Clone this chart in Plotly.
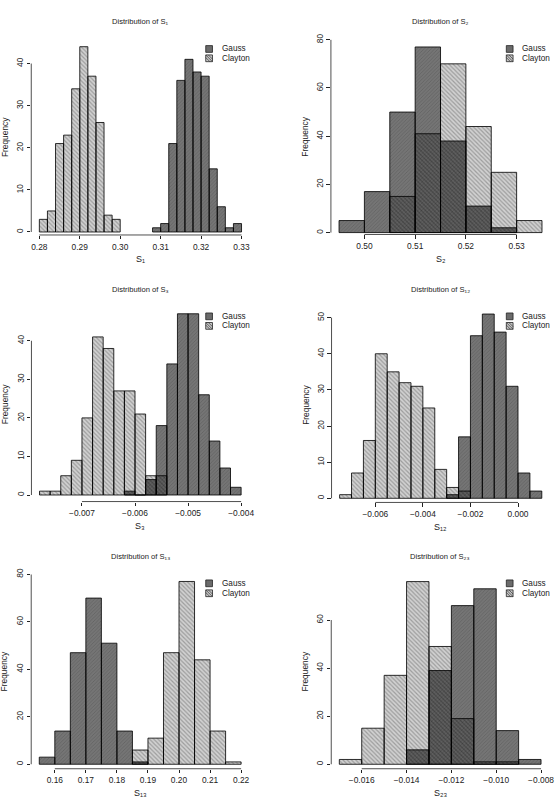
import plotly.graph_objects as go

W, H = 558, 800

# ---------------- data: histogram counts ----------------
SERIES_NAMES = ["Gauss", "Clayton"]

S1_BIN_WIDTH = 0.002
S1_GAUSS_FIRST_EDGE = 0.308
S1_GAUSS_COUNTS = [1, 2, 21, 36, 41, 38, 37, 15, 6, 1, 2]
S1_CLAYTON_FIRST_EDGE = 0.280
S1_CLAYTON_COUNTS = [3, 5, 21, 23, 34, 44, 37, 26, 4, 3]
S1_X_TICKS = [0.28, 0.29, 0.30, 0.31, 0.32, 0.33]
S1_X_TICK_LABELS = ["0.28", "0.29", "0.30", "0.31", "0.32", "0.33"]
S1_Y_TICKS = [0, 10, 20, 30, 40]

S2_BIN_WIDTH = 0.005
S2_GAUSS_FIRST_EDGE = 0.495
S2_GAUSS_COUNTS = [5, 17, 50, 77, 38, 11, 2]
S2_CLAYTON_FIRST_EDGE = 0.505
S2_CLAYTON_COUNTS = [15, 41, 70, 44, 25, 5]
S2_X_TICKS = [0.50, 0.51, 0.52, 0.53]
S2_X_TICK_LABELS = ["0.50", "0.51", "0.52", "0.53"]
S2_Y_TICKS = [0, 20, 40, 60, 80]

S3_BIN_WIDTH = 0.0002
S3_GAUSS_FIRST_EDGE = -0.0062
S3_GAUSS_COUNTS = [1, 0, 4, 18, 34, 47, 47, 26, 14, 7, 2]
S3_CLAYTON_FIRST_EDGE = -0.0078
S3_CLAYTON_COUNTS = [1, 1, 5, 9, 20, 41, 38, 27, 27, 21, 5, 5]
S3_X_TICKS = [-0.007, -0.006, -0.005, -0.004]
S3_X_TICK_LABELS = ["\u22120.007", "\u22120.006", "\u22120.005", "\u22120.004"]
S3_Y_TICKS = [0, 10, 20, 30, 40]

S12_BIN_WIDTH = 0.0005
S12_GAUSS_FIRST_EDGE = -0.0030
S12_GAUSS_COUNTS = [1, 17, 45, 51, 46, 31, 7, 2]
S12_CLAYTON_FIRST_EDGE = -0.0075
S12_CLAYTON_COUNTS = [1, 7, 16, 40, 35, 32, 31, 25, 8, 3, 2]
S12_X_TICKS = [-0.006, -0.004, -0.002, 0.000]
S12_X_TICK_LABELS = ["\u22120.006", "\u22120.004", "\u22120.002", "0.000"]
S12_Y_TICKS = [0, 10, 20, 30, 40, 50]

S13_BIN_WIDTH = 0.005
S13_GAUSS_FIRST_EDGE = 0.155
S13_GAUSS_COUNTS = [3, 14, 47, 70, 51, 14, 1]
S13_CLAYTON_FIRST_EDGE = 0.185
S13_CLAYTON_COUNTS = [6, 11, 47, 77, 44, 14, 1]
S13_X_TICKS = [0.16, 0.17, 0.18, 0.19, 0.20, 0.21, 0.22]
S13_X_TICK_LABELS = ["0.16", "0.17", "0.18", "0.19", "0.20", "0.21", "0.22"]
S13_Y_TICKS = [0, 20, 40, 60, 80]

S23_BIN_WIDTH = 0.001
S23_GAUSS_FIRST_EDGE = -0.014
S23_GAUSS_COUNTS = [6, 39, 66, 73, 14, 2]
S23_CLAYTON_FIRST_EDGE = -0.017
S23_CLAYTON_COUNTS = [2, 15, 37, 76, 49, 19, 1, 1]
S23_X_TICKS = [-0.016, -0.014, -0.012, -0.010, -0.008]
S23_X_TICK_LABELS = ["\u22120.016", "\u22120.014", "\u22120.012", "\u22120.010", "\u22120.008"]
S23_Y_TICKS = [0, 20, 40, 60]

PANEL_SUBSCRIPTS = ["\u2081", "\u2082", "\u2083", "\u2081\u2082", "\u2081\u2083", "\u2082\u2083"]

PANELS = [
    dict(bw=S1_BIN_WIDTH, gs=S1_GAUSS_FIRST_EDGE, g=S1_GAUSS_COUNTS, cs=S1_CLAYTON_FIRST_EDGE, c=S1_CLAYTON_COUNTS,
         xt=S1_X_TICKS, xl=S1_X_TICK_LABELS, yt=S1_Y_TICKS),
    dict(bw=S2_BIN_WIDTH, gs=S2_GAUSS_FIRST_EDGE, g=S2_GAUSS_COUNTS, cs=S2_CLAYTON_FIRST_EDGE, c=S2_CLAYTON_COUNTS,
         xt=S2_X_TICKS, xl=S2_X_TICK_LABELS, yt=S2_Y_TICKS),
    dict(bw=S3_BIN_WIDTH, gs=S3_GAUSS_FIRST_EDGE, g=S3_GAUSS_COUNTS, cs=S3_CLAYTON_FIRST_EDGE, c=S3_CLAYTON_COUNTS,
         xt=S3_X_TICKS, xl=S3_X_TICK_LABELS, yt=S3_Y_TICKS),
    dict(bw=S12_BIN_WIDTH, gs=S12_GAUSS_FIRST_EDGE, g=S12_GAUSS_COUNTS, cs=S12_CLAYTON_FIRST_EDGE, c=S12_CLAYTON_COUNTS,
         xt=S12_X_TICKS, xl=S12_X_TICK_LABELS, yt=S12_Y_TICKS),
    dict(bw=S13_BIN_WIDTH, gs=S13_GAUSS_FIRST_EDGE, g=S13_GAUSS_COUNTS, cs=S13_CLAYTON_FIRST_EDGE, c=S13_CLAYTON_COUNTS,
         xt=S13_X_TICKS, xl=S13_X_TICK_LABELS, yt=S13_Y_TICKS),
    dict(bw=S23_BIN_WIDTH, gs=S23_GAUSS_FIRST_EDGE, g=S23_GAUSS_COUNTS, cs=S23_CLAYTON_FIRST_EDGE, c=S23_CLAYTON_COUNTS,
         xt=S23_X_TICKS, xl=S23_X_TICK_LABELS, yt=S23_Y_TICKS),
]

# ---------------- layout geometry (pixels in the 558x800 page) ----------------
GEOM = [
    dict(xa=(0.28, 39.7), xb=(0.33, 243.7), y0=227.7, ys=4.243, xline=230.7, title_y=15.5, leg_y=(43.3, 52.7), leg_x=211.0),
    dict(xa=(0.50, 367.7), xb=(0.53, 521.3), y0=228.3, ys=2.429, xline=230.2, title_y=15.5, leg_y=(43.3, 52.7), leg_x=514.3),
    dict(xa=(-0.007, 82.7), xb=(-0.004, 243.3), y0=492.7, ys=3.885, xline=499.3, title_y=285.5, leg_y=(312.7, 322.3), leg_x=211.0),
    dict(xa=(-0.006, 378.7), xb=(0.0, 522.7), y0=496.0, ys=3.64, xline=500.2, title_y=285.5, leg_y=(312.7, 322.3), leg_x=514.3),
    dict(xa=(0.16, 55.3), xb=(0.22, 243.3), y0=764.0, ys=2.392, xline=768.5, title_y=555.0, leg_y=(581.7, 591.7), leg_x=211.0),
    dict(xa=(-0.016, 365.0), xb=(-0.010, 500.7), y0=764.0, ys=2.422, xline=768.5, title_y=555.0, leg_y=(581.7, 591.7), leg_x=514.3),
]

FONT = "Liberation Sans, Arial, Helvetica, sans-serif"
TXT = "#222222"
TICK_FS = 8.4
TITLE_FS = 7.6
LABEL_FS = 8.4
LEG_FS = 8.2

GAUSS_STYLE = dict(color="rgba(0,0,0,0.54)", line=dict(color="rgba(0,0,0,0.9)", width=0.9),
                   pattern=dict(shape="/", fgcolor="rgba(0,0,0,0.3)", size=2.5, solidity=0.35, fillmode="overlay"))
CLAYTON_STYLE = dict(color="rgba(0,0,0,0.18)", line=dict(color="rgba(0,0,0,0.9)", width=0.9),
                     pattern=dict(shape="\\", fgcolor="rgba(0,0,0,0.5)", size=3, solidity=0.4, fillmode="overlay"))


def px2x(p):
    return p / W


def px2y(p):
    return 1 - p / H


fig = go.Figure()
layout = dict(width=W, height=H, margin=dict(l=0, r=0, t=0, b=0), barmode="overlay",
              paper_bgcolor="white", plot_bgcolor="rgba(0,0,0,0)", showlegend=False,
              font=dict(family=FONT, color=TXT))
shapes = []
annotations = []

for i, (p, g) in enumerate(zip(PANELS, GEOM)):
    k = "" if i == 0 else str(i + 1)
    xname, yname = "x" + k, "y" + k
    bw = p["bw"]
    gx = [p["gs"] + (j + 0.5) * bw for j in range(len(p["g"]))]
    cx = [p["cs"] + (j + 0.5) * bw for j in range(len(p["c"]))]

    fig.add_trace(go.Bar(x=gx, y=p["g"], width=bw, name=SERIES_NAMES[0], marker=GAUSS_STYLE,
                         xaxis=xname, yaxis=yname, hoverinfo="x+y"))
    fig.add_trace(go.Bar(x=cx, y=p["c"], width=bw, name=SERIES_NAMES[1], marker=CLAYTON_STYLE,
                         xaxis=xname, yaxis=yname, hoverinfo="x+y"))

    # R-style axis extents (4% padding)
    lo_edge = min(p["gs"], p["cs"])
    hi_edge = max(p["gs"] + len(p["g"]) * bw, p["cs"] + len(p["c"]) * bw)
    span = hi_edge - lo_edge
    xlo, xhi = lo_edge - 0.04 * span, hi_edge + 0.04 * span
    (a, apx), (b, bpx) = g["xa"], g["xb"]
    sx = (bpx - apx) / (b - a)
    left_px = apx + (xlo - a) * sx
    right_px = apx + (xhi - a) * sx

    ymax = max(max(p["g"]), max(p["c"]))
    ylo = -(g["xline"] - g["y0"]) / g["ys"]
    yhi = 1.04 * ymax
    top_px = g["y0"] - yhi * g["ys"]
    bot_px = g["xline"]

    layout["xaxis" + k] = dict(domain=[px2x(left_px), px2x(right_px)], range=[xlo, xhi], anchor=yname,
                               showgrid=False, zeroline=False, showline=False, tickmode="array",
                               tickvals=p["xt"], ticktext=p["xl"], ticks="outside", ticklen=3.5,
                               tickwidth=0.8, tickcolor="#222", tickfont=dict(size=TICK_FS, color=TXT, family=FONT),
                               fixedrange=True)
    layout["yaxis" + k] = dict(domain=[px2y(bot_px), px2y(top_px)], range=[ylo, yhi], anchor=xname,
                               showgrid=False, zeroline=False, showline=False, tickmode="array",
                               tickvals=p["yt"], ticktext=[str(v) for v in p["yt"]], ticks="outside", ticklen=3.5,
                               tickwidth=0.8, tickcolor="#222", tickangle=-90,
                               tickfont=dict(size=TICK_FS, color=TXT, family=FONT), fixedrange=True)

    # axis lines spanning only the tick range (R style)
    shapes.append(dict(type="line", xref=xname, yref="paper", x0=p["xt"][0], x1=p["xt"][-1],
                       y0=px2y(bot_px), y1=px2y(bot_px), line=dict(color="#222", width=0.8)))
    shapes.append(dict(type="line", xref="paper", yref=yname, x0=px2x(left_px), x1=px2x(left_px),
                       y0=p["yt"][0], y1=p["yt"][-1], line=dict(color="#222", width=0.8)))

    sub = PANEL_SUBSCRIPTS[i]
    cx_mid = px2x((left_px + right_px) / 2)
    annotations.append(dict(text="Distribution of S" + sub, xref="paper", yref="paper",
                            x=cx_mid, y=px2y(g["title_y"]), showarrow=False, xanchor="center", yanchor="middle",
                            font=dict(size=TITLE_FS, color=TXT, family=FONT)))
    annotations.append(dict(text="S" + sub, xref="paper", yref="paper",
                            x=cx_mid, y=px2y(bot_px + 24.5), showarrow=False, xanchor="center", yanchor="middle",
                            font=dict(size=LABEL_FS + 0.6, color=TXT, family=FONT)))
    annotations.append(dict(text="Frequency", xref="paper", yref="paper", textangle=-90,
                            x=px2x(left_px - 26.5), y=px2y((top_px + bot_px) / 2), showarrow=False,
                            xanchor="center", yanchor="middle", font=dict(size=LABEL_FS, color=TXT, family=FONT)))

    # legend
    sq = 3.4
    for r, (name, fill) in enumerate(zip(SERIES_NAMES, ["rgba(0,0,0,0.58)", "rgba(0,0,0,0.22)"])):
        yc = g["leg_y"][r]
        xc = g["leg_x"]
        shapes.append(dict(type="rect", xref="paper", yref="paper", x0=px2x(xc - sq), x1=px2x(xc + sq),
                           y0=px2y(yc + sq), y1=px2y(yc - sq), fillcolor=fill,
                           line=dict(color="#222", width=0.8)))
        if r == 1:
            for off in (-2.6, 0.0, 2.6):
                x0, y0p = xc - sq, yc - sq + off
                x1, y1p = xc + sq - off, yc + sq
                if off < 0:
                    x0, y0p = xc - sq - off, yc - sq
                    x1, y1p = xc + sq, yc + sq + off
                shapes.append(dict(type="line", xref="paper", yref="paper", x0=px2x(x0), y0=px2y(y0p),
                                   x1=px2x(x1), y1=px2y(y1p), line=dict(color="#333", width=0.7)))
        annotations.append(dict(text=name, xref="paper", yref="paper", x=px2x(xc + 10.5), y=px2y(yc),
                                showarrow=False, xanchor="left", yanchor="middle",
                                font=dict(size=LEG_FS, color=TXT, family=FONT)))

layout["shapes"] = shapes
layout["annotations"] = annotations
fig.update_layout(**layout)
fig.write_html("out.html")
